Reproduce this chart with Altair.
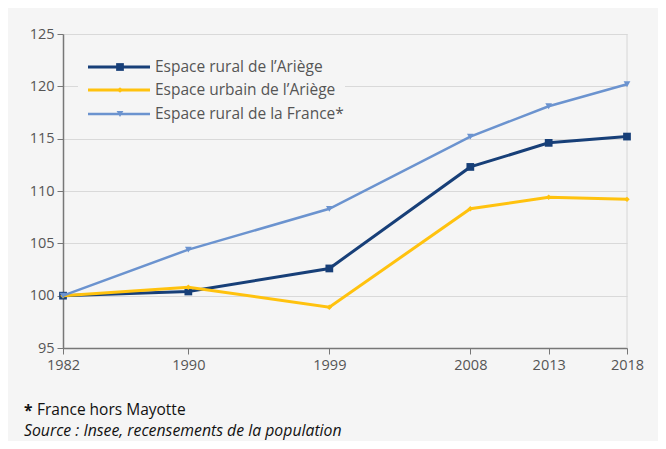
import altair as alt
import pandas as pd

years = [1982, 1990, 1999, 2008, 2013, 2018]
rural_ariege = [100, 100.4, 102.6, 112.3, 114.6, 115.2]
urbain_ariege = [100, 100.8, 98.9, 108.3, 109.4, 109.2]
rural_france = [100, 104.4, 108.3, 115.2, 118.1, 120.2]

series_names = ["Espace rural de l\u2019Ari\u00e8ge", "Espace urbain de l\u2019Ari\u00e8ge", "Espace rural de la France*"]
series_values = [rural_ariege, urbain_ariege, rural_france]
colors = ["#173f78", "#ffc20e", "#6b93cf"]
shapes = ["square", "diamond", "triangle-down"]
sizes = [60, 30, 45]
widths = [3, 3, 2.5]

FONT = "Open Sans"
BG = "#f5f5f5"

rows = []
for name, vals in zip(series_names, series_values):
    for y, v in zip(years, vals):
        rows.append({"annee": y, "valeur": v, "serie": name})
df = pd.DataFrame(rows)

xscale = alt.Scale(domain=[1982, 2018], nice=False, zero=False)
yscale = alt.Scale(domain=[95, 125], nice=False, zero=False)

base = alt.Chart(df)

layers = []
# right vertical gridline at 2018
layers.append(
    alt.Chart(pd.DataFrame({"annee": [2018]})).mark_rule(color="#d6d6d6", strokeWidth=1).encode(
        x=alt.X("annee:Q", scale=xscale)
    )
)

for i, name in enumerate(series_names):
    sub = base.transform_filter(alt.datum.serie == name)
    layers.append(
        sub.mark_line(color=colors[i], strokeWidth=widths[i]).encode(
            x=alt.X("annee:Q", scale=xscale,
                    axis=alt.Axis(values=years, format="d", title=None, grid=False,
                                  labelFont=FONT, labelFontSize=14.5, labelColor="#555555",
                                  labelFlush=False,
                                  domainColor="#777777", domainWidth=1.5, tickColor="#777777",
                                  tickSize=6, labelPadding=4)),
            y=alt.Y("valeur:Q", scale=yscale,
                    axis=alt.Axis(values=[95, 100, 105, 110, 115, 120, 125], title=None,
                                  grid=True, gridColor="#d9d9d9", gridWidth=1,
                                  labelFont=FONT, labelFontSize=14.5, labelColor="#555555",
                                  domainColor="#777777", domainWidth=1.5, tickColor="#777777",
                                  tickSize=6, labelPadding=3)),
        )
    )
    layers.append(
        sub.mark_point(shape=shapes[i], filled=True, color=colors[i], size=sizes[i], opacity=1).encode(
            x=alt.X("annee:Q", scale=xscale),
            y=alt.Y("valeur:Q", scale=yscale),
        )
    )

# legend background
legdf = pd.DataFrame({"k": [0]})
layers.append(
    alt.Chart(legdf).mark_rect(color=BG).encode(
        x=alt.value(15), x2=alt.value(282), y=alt.value(17), y2=alt.value(92)
    )
)
leg_y = [33, 56, 80]
for i, name in enumerate(series_names):
    layers.append(
        alt.Chart(legdf).mark_rule(color=colors[i], strokeWidth=widths[i]).encode(
            x=alt.value(25), x2=alt.value(87), y=alt.value(leg_y[i])
        )
    )
    layers.append(
        alt.Chart(legdf).mark_point(shape=shapes[i], filled=True, color=colors[i], size=sizes[i], opacity=1).encode(
            x=alt.value(57), y=alt.value(leg_y[i])
        )
    )
    layers.append(
        alt.Chart(legdf).mark_text(text=name, align="left", baseline="middle", font=FONT,
                                   fontSize=15.5, color="#555555").encode(
            x=alt.value(92), y=alt.value(leg_y[i])
        )
    )

# footer
layers.append(
    alt.Chart(legdf).mark_text(text="*", align="left", baseline="middle", font=FONT,
                               fontSize=15.5, fontWeight="bold", color="#111111").encode(
        x=alt.value(-39), y=alt.value(377)
    )
)
layers.append(
    alt.Chart(legdf).mark_text(text="France hors Mayotte", align="left", baseline="middle", font=FONT,
                               fontSize=15.5, color="#111111").encode(
        x=alt.value(-26), y=alt.value(376)
    )
)
layers.append(
    alt.Chart(legdf).mark_text(text="Source : Insee, recensements de la population", align="left",
                               baseline="middle", font=FONT, fontSize=15.8, fontStyle="italic",
                               color="#111111").encode(
        x=alt.value(-39), y=alt.value(397)
    )
)

chart = alt.layer(*layers).properties(
    width=564, height=314,
    autosize=alt.AutoSizeParams(type="none"),
    padding={"left": 55, "top": 26, "right": 31, "bottom": 93},
    background=BG,
).configure_view(stroke=None, fill=BG)

chart.save("out.html", embed_options={"renderer": "svg", "actions": False})
